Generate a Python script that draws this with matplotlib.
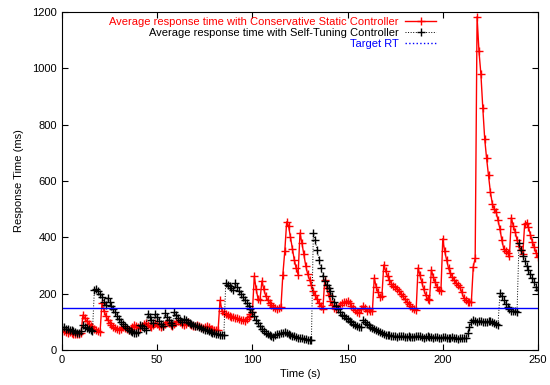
import numpy as np
import matplotlib.pyplot as plt
from matplotlib.lines import Line2D

plt.rcParams['font.family'] = ['Liberation Sans', 'DejaVu Sans']

time_s = np.arange(0, 251)

static_rt = [
	68, 66, 64, 62, 63, 60, 58, 57, 56, 58,
	60, 124, 112, 102, 94, 86, 80, 74, 70, 66,
	64, 167, 140, 122, 108, 96, 88, 82, 78, 74,
	72, 76, 80, 78, 74, 72, 76, 82, 90, 86,
	80, 78, 84, 92, 96, 90, 84, 82, 88, 95,
	92, 86, 82, 86, 92, 100, 96, 90, 86, 92,
	100, 104, 98, 92, 88, 92, 98, 94, 88, 84,
	86, 90, 86, 82, 78, 80, 84, 80, 76, 74,
	72, 70, 72, 176, 140, 130, 128, 124, 122, 118,
	116, 114, 112, 110, 108, 106, 104, 110, 118, 128,
	134, 262, 215, 180, 178, 245, 215, 192, 178, 168,
	160, 154, 150, 146, 148, 152, 268, 350, 455, 440,
	400, 360, 320, 290, 268, 415, 380, 340, 300, 270,
	250, 230, 210, 195, 180, 168, 156, 146, 248, 220,
	195, 175, 160, 150, 145, 150, 160, 166, 170, 172,
	174, 166, 158, 150, 142, 136, 132, 145, 155, 148,
	140, 144, 140, 137, 255, 225, 205, 188, 190, 302,
	280, 262, 248, 236, 228, 222, 216, 210, 200, 190,
	180, 172, 164, 156, 150, 145, 142, 291, 265, 240,
	215, 195, 182, 178, 284, 260, 240, 225, 212, 208,
	395, 350, 320, 290, 273, 260, 249, 238, 230, 222,
	205, 185, 176, 172, 170, 172, 296, 326, 1183, 1060,
	980, 860, 750, 680, 620, 560, 520, 500, 490, 460,
	430, 390, 360, 350, 345, 335, 470, 440, 420, 390,
	370, 355, 340, 448, 452, 435, 410, 385, 365, 345,
	330,
]

tuning_rt = [
	82, 80, 76, 74, 70, 72, 66, 64, 62, 60,
	66, 88, 82, 78, 74, 70, 66, 212, 215, 210,
	200, 188, 172, 160, 185, 170, 158, 146, 134, 122,
	110, 100, 92, 84, 78, 72, 68, 64, 62, 60,
	64, 90, 84, 78, 72, 128, 118, 106, 96, 128,
	116, 104, 94, 86, 130, 118, 106, 96, 88, 136,
	124, 114, 106, 100, 110, 106, 100, 96, 92, 90,
	86, 84, 80, 78, 74, 72, 70, 68, 64, 62,
	60, 58, 57, 55, 54, 53, 237, 232, 226, 220,
	214, 238, 225, 210, 200, 188, 176, 166, 156, 146,
	134, 122, 108, 96, 84, 76, 68, 62, 58, 54,
	50, 47, 52, 56, 58, 60, 62, 63, 62, 58,
	54, 50, 48, 46, 44, 43, 42, 40, 38, 36,
	35, 34, 415, 390, 355, 320, 290, 262, 245, 232,
	220, 208, 190, 172, 156, 145, 135, 126, 120, 115,
	110, 104, 98, 92, 88, 85, 82, 80, 106, 100,
	94, 88, 82, 78, 74, 70, 67, 64, 60, 57,
	55, 53, 52, 50, 49, 48, 47, 48, 50, 48,
	46, 47, 48, 46, 45, 47, 48, 50, 48, 46,
	44, 46, 48, 47, 46, 44, 45, 46, 44, 43,
	45, 46, 44, 42, 44, 45, 43, 42, 40, 41,
	42, 43, 44, 60, 80, 100, 106, 104, 100, 102,
	104, 100, 98, 100, 104, 102, 98, 95, 92, 90,
	202, 190, 178, 165, 152, 144, 140, 138, 137, 136,
	379, 355, 332, 315, 300, 285, 270, 255, 240, 225,
	213,
]

target_rt = 150

labels = [
	"Average response time with Conservative Static Controller",
	"Average response time with Self-Tuning Controller",
	"Target RT",
]


def main():
	fig = plt.figure(figsize=(5.5, 3.85), dpi=100)
	ax = fig.add_axes([0.1127, 0.0909, 0.8655, 0.8779])

	ax.plot(time_s, static_rt, color='red', lw=1.0, marker='+', ms=5.5, mew=1.0)
	ax.plot(time_s, tuning_rt, color='black', lw=0.7, ls=':', marker='+', ms=5.5, mew=1.0)
	ax.axhline(target_rt, color='blue', lw=1.0)

	ax.set_xlim(0, 250)
	ax.set_ylim(0, 1200)
	ax.set_xticks([0, 50, 100, 150, 200, 250])
	ax.set_yticks([0, 200, 400, 600, 800, 1000, 1200])
	ax.tick_params(direction='in', top=True, right=True, labelsize=8, length=4, width=0.8)
	ax.set_xlabel("Time (s)", fontsize=8, labelpad=3)
	ax.set_ylabel("Response Time (ms)", fontsize=8, labelpad=6)
	for s in ax.spines.values():
		s.set_linewidth(0.8)

	handles = [
		Line2D([], [], color='red', lw=1.0, marker='+', ms=5.5, mew=1.0),
		Line2D([], [], color='black', lw=0.7, ls=':', marker='+', ms=5.5, mew=1.0),
		Line2D([], [], color='blue', lw=1.0, ls=':'),
	]
	leg = ax.legend(handles, labels, loc='upper right', bbox_to_anchor=(0.80, 1.005),
		frameon=False, markerfirst=False, fontsize=8, handlelength=2.8,
		labelspacing=0.1, handletextpad=0.6, borderaxespad=0.2)
	for txt, c in zip(leg.get_texts(), ['red', 'black', 'blue']):
		txt.set_color(c)

	fig.savefig("out.png", dpi=100)


if __name__ == "__main__":
	main()
